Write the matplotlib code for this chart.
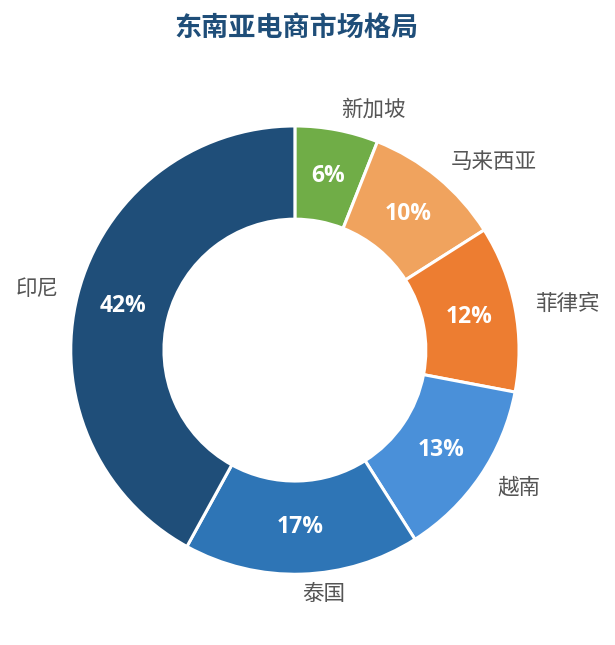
import matplotlib
matplotlib.use("Agg")
import matplotlib.pyplot as plt

plt.rcParams["font.family"] = ["Noto Sans CJK SC", "DejaVu Sans"]

countries = ["新加坡", "马来西亚", "菲律宾", "越南", "泰国", "印尼"]
shares = [6, 10, 12, 13, 17, 42]
colors = ["#70AD47", "#F0A35E", "#ED7D31", "#4A90D9", "#2E75B6", "#1F4E79"]
title = "东南亚电商市场格局"


def plot_donut():
    fig = plt.figure(figsize=(6.15, 6.45), dpi=100)
    ax = fig.add_axes([6.4 / 615, 6.4 / 645, 577 / 615, 577 / 645])

    wedges, texts, autotexts = ax.pie(
        shares,
        labels=countries,
        colors=colors,
        startangle=90,
        counterclock=False,
        radius=1.01,
        labeldistance=1.09,
        pctdistance=0.79,
        autopct="%d%%",
        wedgeprops=dict(width=0.42, edgecolor="white", linewidth=2.2),
        textprops=dict(fontsize=15.5, color="#555555"),
    )
    for t in autotexts:
        t.set_color("white")
        t.set_fontsize(16.5)
        t.set_fontweight("bold")
        t.set_family(["Open Sans", "DejaVu Sans"])

    ax.set_xlim(-1.3, 1.3)
    ax.set_ylim(-1.3, 1.3)
    ax.set_aspect("equal")
    ax.axis("off")

    fig.text(296 / 615, 1 - 28 / 645, title, ha="center", va="center",
             fontsize=19.5, fontweight="bold", color="#1F4E79")

    fig.savefig("out.png", dpi=100)
    plt.close(fig)


if __name__ == "__main__":
    plot_donut()
